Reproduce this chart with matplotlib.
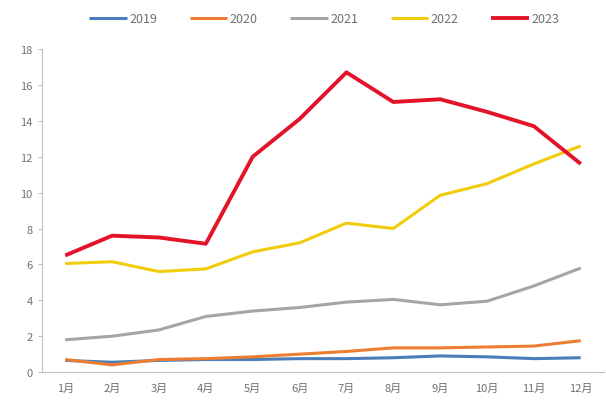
import matplotlib
matplotlib.use('Agg')
import matplotlib.pyplot as plt

plt.rcParams['font.family'] = ['Noto Sans CJK SC', 'DejaVu Sans']

months = ['1月', '2月', '3月', '4月', '5月', '6月', '7月', '8月', '9月', '10月', '11月', '12月']
y2019 = [0.65, 0.55, 0.65, 0.7, 0.7, 0.75, 0.75, 0.8, 0.9, 0.85, 0.75, 0.8]
y2020 = [0.7, 0.4, 0.7, 0.75, 0.85, 1.0, 1.15, 1.35, 1.35, 1.4, 1.45, 1.75]
y2021 = [1.8, 2.0, 2.35, 3.1, 3.4, 3.6, 3.9, 4.05, 3.75, 3.95, 4.8, 5.8]
y2022 = [6.05, 6.15, 5.6, 5.75, 6.7, 7.2, 8.3, 8.0, 9.85, 10.5, 11.6, 12.6]
y2023 = [6.5, 7.6, 7.5, 7.15, 12.0, 14.1, 16.7, 15.05, 15.2, 14.5, 13.7, 11.6]

series = [('2019', y2019, '#4a7ebb'), ('2020', y2020, '#ed7d31'),
          ('2021', y2021, '#a5a5a5'), ('2022', y2022, '#f2cc0c'),
          ('2023', y2023, '#e3142a')]

fig = plt.figure(figsize=(6.06, 4.10), dpi=100)
ax = fig.add_axes([0.069, 0.09, 0.928, 0.788])

x = list(range(len(months)))
for name, vals, col in series:
    lw = 2.8 if name == '2023' else 2.2
    ax.plot(x, vals, color=col, lw=lw, label=name, solid_capstyle='butt')

ax.set_xlim(-0.5, 11.5)
ax.set_ylim(0, 18)
ax.set_yticks(range(0, 19, 2))
ax.set_xticks(x)
ax.set_xticklabels(months)
ax.tick_params(axis='x', length=0, labelsize=8, colors='#707070', pad=8)
ax.tick_params(axis='y', length=3, labelsize=8, colors='#707070', direction='out')
ax.tick_params(axis='y', color='#bfbfbf')
for s in ['top', 'right']:
    ax.spines[s].set_visible(False)
for s in ['left', 'bottom']:
    ax.spines[s].set_color('#bfbfbf')
    ax.spines[s].set_linewidth(0.8)

fig.legend(loc='upper center', bbox_to_anchor=(0.535, 0.995), ncol=5, frameon=False,
           fontsize=9, handlelength=3.0, columnspacing=2.6, handletextpad=0.2,
           labelcolor='#707070')

plt.savefig('out.png', dpi=100)
